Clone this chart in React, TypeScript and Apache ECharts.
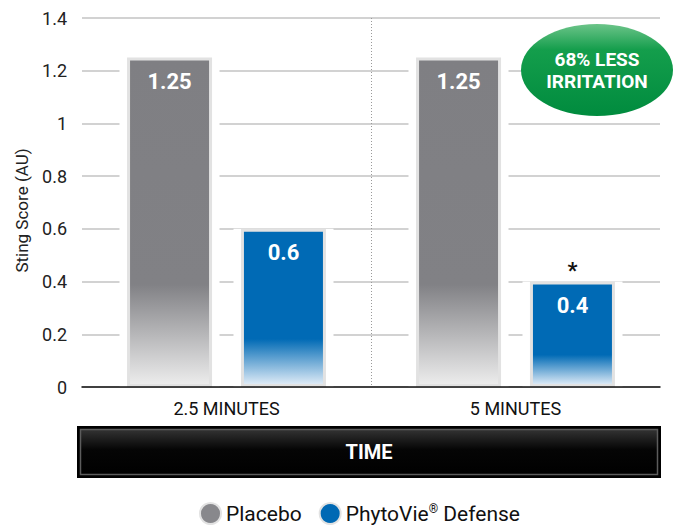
import React, { useEffect, useRef } from "react";
import * as echarts from "echarts";

const categories = ["2.5 MINUTES", "5 MINUTES"];
const placeboValues = [1.25, 1.25];
const phytoValues = [0.6, 0.4];
const significance = ["", "*"];
const yMin = 0;
const yMax = 1.4;
const yInterval = 0.2;
const seriesNames = ["Placebo", "PhytoVie® Defense"];
const badgeLines = ["68% LESS", "IRRITATION"];
const xTitle = "TIME";
const yTitle = "Sting Score (AU)";

const FONT = "Roboto, 'Noto Sans', sans-serif";

const grayGrad = new echarts.graphic.LinearGradient(0, 0, 0, 1, [
  { offset: 0, color: "#7f7f83" },
  { offset: 0.69, color: "#818185" },
  { offset: 1, color: "#ededed" },
]);
const blueGrad = new echarts.graphic.LinearGradient(0, 0, 0, 1, [
  { offset: 0, color: "#006ab5" },
  { offset: 0.7, color: "#006ab5" },
  { offset: 1, color: "#e4eef8" },
]);

export default function App() {
  const ref = useRef<HTMLDivElement>(null);
  useEffect(() => {
    document.body.style.margin = "0";
    const chart = echarts.init(ref.current!, null, { renderer: "svg" });
    const barLabel = {
      show: true,
      position: "insideTop",
      distance: 13,
      color: "#ffffff",
      fontWeight: "bold",
      fontSize: 22,
      fontFamily: FONT,
    };
    chart.setOption({
      animation: false,
      textStyle: { fontFamily: FONT },
      grid: { left: 82, right: 16, top: 18, bottom: 138 },
      legend: {
        left: 199,
        top: 502,
        padding: 0,
        icon: "circle",
        itemWidth: 21,
        itemHeight: 21,
        itemGap: 17,
        textStyle: {
          fontSize: 21,
          color: "#111",
          fontFamily: FONT,
          rich: {
            t: { fontSize: 21, lineHeight: 21, color: "#111", fontFamily: FONT },
            sup: { fontSize: 12, lineHeight: 21, color: "#111", fontFamily: FONT, verticalAlign: "top" },
          },
        },
        formatter: (name: string) => {
          if (name.indexOf("®") >= 0) {
            const [a, b] = name.split("®");
            return `{t|${a}}{sup|®}{t|${b}}`;
          }
          return `{t|${name}}`;
        },
        data: [
          { name: seriesNames[0], itemStyle: { color: "#88888c" } },
          { name: seriesNames[1], itemStyle: { color: "#0069b4" } },
        ],
      },
      xAxis: [
        {
          type: "category",
          data: categories,
          z: 10,
          axisLine: { show: true, lineStyle: { color: "#111", width: 1.5 } },
          axisTick: { show: false },
          axisLabel: { fontSize: 18, color: "#111", margin: 12, fontFamily: FONT },
          splitLine: {
            show: true,
            showMinLine: false,
            showMaxLine: false,
            lineStyle: { color: "#9a9a9a", type: [1, 2], width: 1 },
          },
        },
        { type: "category", data: categories, show: false },
      ],
      yAxis: {
        type: "value",
        min: yMin,
        max: yMax,
        interval: yInterval,
        name: yTitle,
        nameLocation: "middle",
        nameGap: 52,
        nameTextStyle: { fontSize: 17, color: "#222", fontFamily: FONT, padding: [0, 16, 0, 0] },
        axisLine: { show: false },
        axisTick: { show: false },
        axisLabel: { fontSize: 18, color: "#222", margin: 15, fontFamily: FONT },
        splitLine: { lineStyle: { color: "#d2d2d2", width: 2 } },
      },
      series: [
        {
          name: "haloPlacebo",
          type: "bar",
          xAxisIndex: 1,
          barWidth: 100,
          barGap: "14%",
          silent: true,
          z: 2,
          itemStyle: { color: "#ffffff" },
          data: placeboValues,
        },
        {
          name: "haloPhyto",
          type: "bar",
          xAxisIndex: 1,
          barWidth: 100,
          barGap: "14%",
          silent: true,
          z: 2,
          itemStyle: { color: "#ffffff" },
          label: {
            show: true,
            position: "top",
            distance: 0,
            color: "#111",
            fontWeight: "bold",
            fontSize: 22,
            fontFamily: FONT,
            formatter: (p: any) => significance[p.dataIndex],
          },
          data: phytoValues,
        },
        {
          name: seriesNames[0],
          type: "bar",
          xAxisIndex: 0,
          barWidth: 85,
          barGap: "34%",
          z: 3,
          itemStyle: { color: grayGrad, borderColor: "#e2e2e2", borderWidth: 3 },
          label: barLabel,
          data: placeboValues,
        },
        {
          name: seriesNames[1],
          type: "bar",
          xAxisIndex: 0,
          barWidth: 85,
          barGap: "34%",
          z: 3,
          itemStyle: { color: blueGrad, borderColor: "#e2e2e2", borderWidth: 3 },
          label: barLabel,
          data: phytoValues,
        },
      ],
      graphic: [
        {
          type: "group",
          z: 100,
          children: [
            {
              type: "ellipse",
              z: 100,
              shape: { cx: 597, cy: 70, rx: 76, ry: 46 },
              style: {
                fill: new echarts.graphic.LinearGradient(0, 0, 0, 1, [
                  { offset: 0, color: "#6cc489" },
                  { offset: 0.28, color: "#149e4c" },
                  { offset: 1, color: "#008b3e" },
                ]),
              },
            },
            {
              type: "text",
              z: 101,
              x: 597,
              y: 59,
              style: {
                text: badgeLines[0],
                fill: "#ffffff",
                fontSize: 19,
                fontWeight: "bold",
                fontFamily: FONT,
                align: "center",
                verticalAlign: "middle",
              },
            },
            {
              type: "text",
              z: 101,
              x: 597,
              y: 81,
              style: {
                text: badgeLines[1],
                fill: "#ffffff",
                fontSize: 19,
                fontWeight: "bold",
                fontFamily: FONT,
                align: "center",
                verticalAlign: "middle",
              },
            },
          ],
        },
        {
          type: "group",
          z: 100,
          children: [
            {
              type: "rect",
              shape: { x: 77, y: 426, width: 584, height: 52 },
              style: { fill: "#000000" },
            },
            {
              type: "rect",
              shape: { x: 80.5, y: 429.5, width: 577, height: 45 },
              style: {
                fill: new echarts.graphic.LinearGradient(0, 0, 0, 1, [
                  { offset: 0, color: "#333333" },
                  { offset: 0.45, color: "#050505" },
                  { offset: 1, color: "#000000" },
                ]),
                stroke: "#5c5c5c",
                lineWidth: 1.5,
              },
            },
            {
              type: "text",
              x: 369,
              y: 452,
              style: {
                text: xTitle,
                fill: "#ffffff",
                fontSize: 20,
                fontWeight: "bold",
                fontFamily: FONT,
                align: "center",
                verticalAlign: "middle",
              },
            },
          ],
        },
      ],
    });
    return () => chart.dispose();
  }, []);
  return <div ref={ref} style={{ width: 676, height: 525 }} />;
}
